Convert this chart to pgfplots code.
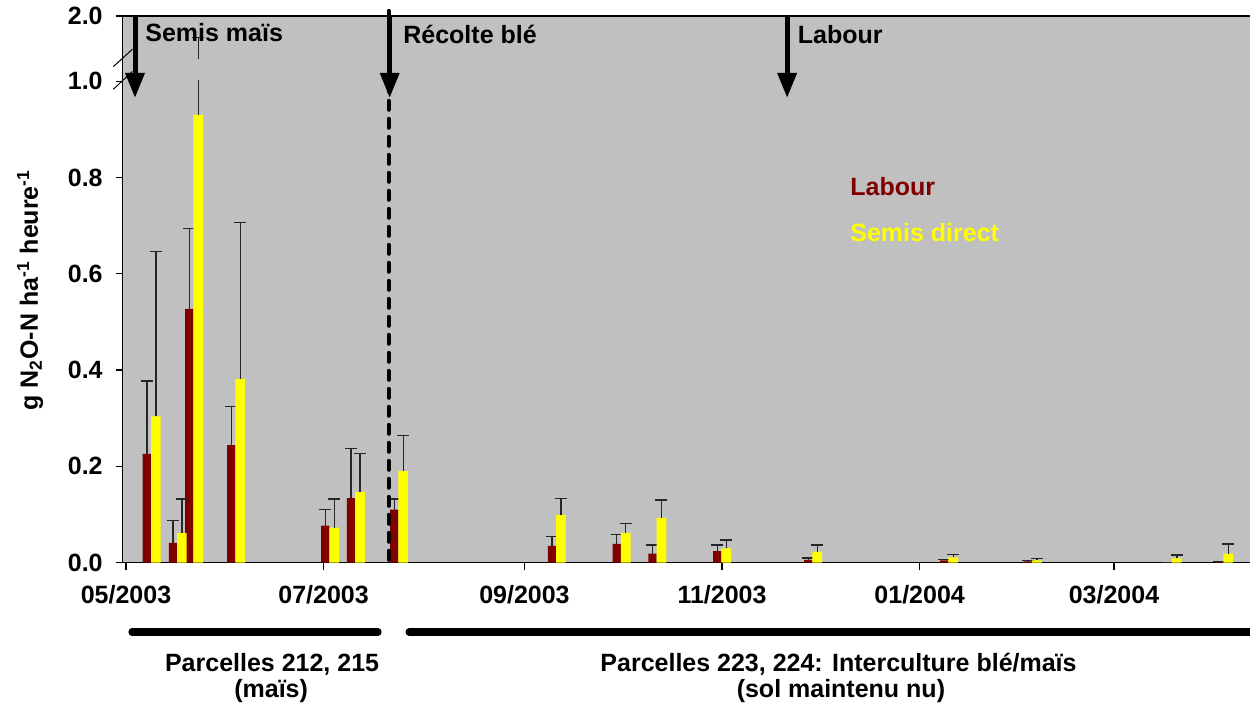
\documentclass[border=0pt]{standalone}
\usepackage{fontspec}
\setmainfont{Liberation Sans}
\usepackage{pgfplots}
\pgfplotsset{compat=1.18}
\usetikzlibrary{arrows.meta}
\definecolor{bggray}{RGB}{192,192,192}
\definecolor{darkred}{RGB}{128,0,0}
\definecolor{yel}{RGB}{255,255,0}
\newcommand\f{\fontsize{12.5pt}{15pt}\selectfont\bfseries}
\pgfplotsset{
  errstyle/.style={
    error bars/.cd, y dir=plus, y explicit,
    error mark=-,
    error bar style={draw=black!85, line width=0.65pt, solid},
    error mark options={rotate=90, draw=black!85, line width=0.65pt, mark size=3pt, solid},
  }
}
\begin{document}
\begin{tikzpicture}
\begin{axis}[
  scale only axis,
  width=564.65pt, height=273.35pt,
  xmin=-1.02, xmax=347.6,
  ymin=0, ymax=1.1352,
  axis background/.style={fill=bggray},
  axis line style={black, line width=0.8pt},
  clip=false,
  xtick={0,61,123,184,245,305},
  xticklabels={05/2003,07/2003,09/2003,11/2003,01/2004,03/2004},
  ytick={0,0.2,0.4,0.6,0.8,1.0,1.1352},
  yticklabels={0.0,0.2,0.4,0.6,0.8,1.0,2.0},
  xtick pos=bottom, ytick pos=left,
  tick align=outside,
  major tick length=3.5pt,
  tick style={black, line width=0.6pt},
  tick label style={font=\f},
  xticklabel style={yshift=-4.5pt},
  yticklabel style={xshift=-3pt},
  /pgf/number format/assume math mode=true,
]
% Labour (dark red)
\addplot[ybar, bar width=2.55, bar shift=0, fill=darkred, draw=none, errstyle]
coordinates {
(6.445,0.226) +- (0,0.151)
(14.475,0.041) +- (0,0.047)
(19.505,0.527) +- (0,0.167)
(32.465,0.244) +- (0,0.081)
(61.495,0.077) +- (0,0.033)
(69.485,0.134) +- (0,0.103)
(82.795,0.110) +- (0,0.022)
(131.475,0.035) +- (0,0.020)
(151.525,0.039) +- (0,0.020)
(162.525,0.019) +- (0,0.018)
(182.525,0.024) +- (0,0.013)
(210.625,0.006) +- (0,0.004)
(252.625,0.005) +- (0,0.002)
(278.425,0.003) +- (0,0.001)
(321.625,0.001) +- (0,0.000)
(337.525,0.002) +- (0,0.000)
};
% Semis direct (yellow)
\addplot[ybar, bar width=3.0, bar shift=0, fill=yel, draw=none, errstyle]
coordinates {
(9.22,0.304) +- (0,0.342)
(17.25,0.062) +- (0,0.070)
(22.28,0.930) +- (0,0.160)
(35.24,0.381) +- (0,0.325)
(64.27,0.073) +- (0,0.059)
(72.26,0.147) +- (0,0.080)
(85.57,0.190) +- (0,0.074)
(134.25,0.099) +- (0,0.035)
(154.3,0.062) +- (0,0.019)
(165.3,0.093) +- (0,0.037)
(185.3,0.030) +- (0,0.017)
(213.4,0.023) +- (0,0.014)
(255.4,0.011) +- (0,0.006)
(281.2,0.005) +- (0,0.003)
(324.4,0.009) +- (0,0.007)
(340.3,0.019) +- (0,0.020)
};
% axis break gap on the tall error bar
\fill[bggray] (axis cs:21.5,1.002) rectangle (axis cs:23.1,1.046);
% break marks on y axis
\draw[black, line width=0.5pt] (axis cs:-3.92,1.030) -- (axis cs:1.95,1.066);
\draw[black, line width=0.5pt] (axis cs:-3.92,0.983) -- (axis cs:1.95,1.020);
% dashed harvest line
\draw[line width=2pt, dash pattern=on 4.5pt off 4.5pt, line cap=round] (axis cs:81.05,1.146) -- (axis cs:81.05,0.004);
% arrows
\draw[line width=2.5pt, -{Triangle[width=9.2pt,length=12.5pt]}] (axis cs:2.78,1.137) -- (axis cs:2.78,0.965);
\draw[line width=2.5pt, -{Triangle[width=9.2pt,length=12.5pt]}] (axis cs:81.4,1.137) -- (axis cs:81.4,0.965);
\draw[line width=2.5pt, -{Triangle[width=9.2pt,length=12.5pt]}] (axis cs:204.1,1.137) -- (axis cs:204.1,0.965);
% event labels
\node[anchor=base west, inner sep=0pt, font=\f] at (axis cs:5.87,1.083) {Semis maïs};
\node[anchor=base west, inner sep=0pt, font=\f] at (axis cs:85.5,1.079) {Récolte blé};
\node[anchor=base west, inner sep=0pt, font=\f] at (axis cs:207.3,1.079) {Labour};
% legend texts
\node[anchor=base west, inner sep=0pt, font=\f, text=darkred] at (axis cs:223.5,0.762) {Labour};
\node[anchor=base west, inner sep=0pt, font=\f, text=yel] at (axis cs:223.5,0.6665) {Semis direct};
% y label
\node[rotate=90, anchor=base, inner sep=0pt, font=\f] at (axis cs:-27.2,0.566) {g N\textsubscript{2}O-N ha\textsuperscript{-1} heure\textsuperscript{-1}};
% period bars
\draw[line width=3.6pt, line cap=round] (axis cs:1.85,-0.144) -- (axis cs:77.8,-0.144);
\draw[line width=3.6pt, line cap=round] (axis cs:87.4,-0.144) -- (axis cs:360,-0.144);
% period labels
\node[anchor=base, inner sep=0pt, font=\f] at (axis cs:45.1,-0.2249) {Parcelles 212, 215};
\node[anchor=base, inner sep=0pt, font=\f] at (axis cs:44.8,-0.2789) {(maïs)};
\node[anchor=base, inner sep=0pt, font=\f] at (axis cs:219.97,-0.2249) {Parcelles 223, 224: Interculture blé/maïs};
\node[anchor=base, inner sep=0pt, font=\f] at (axis cs:220.7,-0.2789) {(sol maintenu nu)};
\end{axis}
\pgfresetboundingbox
\useasboundingbox (-61.35pt,-72.15pt) rectangle (563.65pt,281.35pt);
\end{tikzpicture}
\end{document}
